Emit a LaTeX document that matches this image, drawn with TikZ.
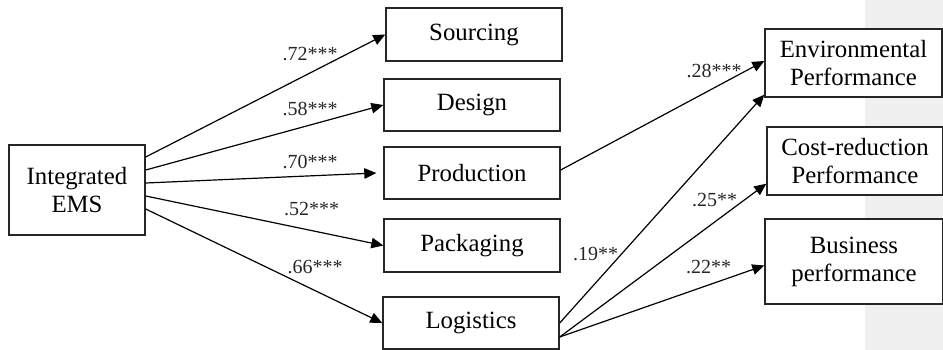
\documentclass[tikz,border=0pt]{standalone}
\usepackage{fontspec}
\setmainfont{Liberation Serif}
\usetikzlibrary{arrows.meta}
\begin{document}
\begin{tikzpicture}[x=1pt,y=-1pt,
  box/.style={draw=black!85,line width=1.4pt,fill=white,inner sep=0pt,align=center,
    font=\fontsize{24.8pt}{28pt}\selectfont},
  coef/.style={anchor=base,inner sep=0pt,font=\fontsize{20pt}{22pt}\selectfont,text=black!85},
  link/.style={line width=1.2pt,-{Triangle[length=12pt,width=10.5pt]}}]
\useasboundingbox (0,0) rectangle (943,350);
\fill[black!6] (865,0) rectangle (943,350);
\node[box,minimum width=136pt,minimum height=90pt] (ems) at (77,190) {Integrated\\EMS};
\node[box,minimum width=176pt,minimum height=53pt] (src) at (474,34.5) {Sourcing};
\node[box,minimum width=176pt,minimum height=52pt] (des) at (472,105) {Design};
\node[box,minimum width=176pt,minimum height=52pt] (prd) at (472,173) {Production};
\node[box,minimum width=176pt,minimum height=53pt] (pkg) at (472,245.5) {Packaging};
\node[box,minimum width=176pt,minimum height=52pt] (log) at (471,323) {Logistics};
\node[box,minimum width=177pt,minimum height=68pt] (env) at (853.5,63) {Environmental\\Performance};
\node[box,minimum width=176pt,minimum height=68pt] (cst) at (855,161) {Cost-reduction\\Performance};
\node[box,minimum width=178pt,minimum height=85pt] (bus) at (854,261.5) {Business\\performance};
\draw[link] ([yshift=33pt]ems.east) -- (src.west);
\draw[link] ([yshift=20pt]ems.east) -- (des.west);
\draw[link] ([yshift=7pt]ems.east) -- ([xshift=-7pt]prd.west);
\draw[link] ([yshift=-6pt]ems.east) -- (pkg.west);
\draw[link] ([yshift=-19pt]ems.east) -- (log.west);
\draw[link] ([yshift=3pt]prd.east) -- ([yshift=2pt]env.west);
\draw[link] (log.east) -- ([yshift=3pt]env.south west);
\draw[link] ([yshift=-14pt]log.east) -- ([yshift=12pt]cst.south west);
\draw[link] ([yshift=-14pt]log.east) -- ([yshift=-4pt]bus.west);
\node[coef] (c1) at (310,61) {.72***};
\node[coef] (c2) at (310,116) {.58***};
\node[coef] (c3) at (310,168) {.70***};
\node[coef] (c4) at (311.5,215) {.52***};
\node[coef] (c5) at (315,273) {.66***};
\node[coef] (c6) at (714,78) {.28***};
\node[coef] (c7) at (595.5,260) {.19**};
\node[coef] (c8) at (714.5,207) {.25**};
\node[coef] (c9) at (708.5,273) {.22**};
\end{tikzpicture}
\end{document}
